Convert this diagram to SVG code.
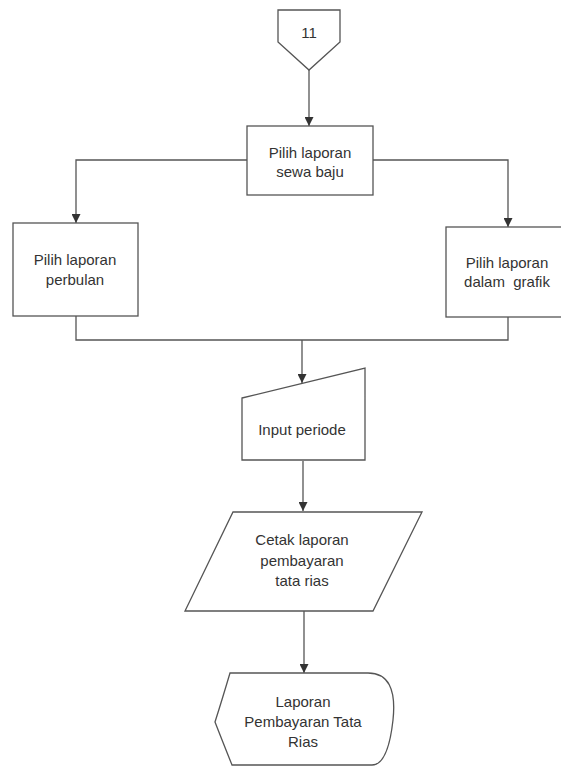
<svg xmlns="http://www.w3.org/2000/svg" width="561" height="766" viewBox="0 0 561 766">
<defs>
<style>
.s{fill:#fff;stroke:#555;stroke-width:1.3}
.c{fill:none;stroke:#555;stroke-width:1.3}
text{font-family:"Liberation Sans",Arial,sans-serif;font-size:15px;fill:#333;text-anchor:middle}
</style>
<marker id="ah" viewBox="0 0 10 10" refX="10" refY="5" markerWidth="9" markerHeight="9" markerUnits="userSpaceOnUse" orient="auto">
<path d="M0,0 L10,5 L0,10 z" fill="#333"/>
</marker>
</defs>
<rect width="561" height="766" fill="#fff"/>
<g id="connectors">
<path class="c" d="M309,70 V126" marker-end="url(#ah)"/>
<path class="c" d="M247,160 H76 V223" marker-end="url(#ah)"/>
<path class="c" d="M373,160 H508 V227" marker-end="url(#ah)"/>
<path class="c" d="M76,316 V340 H508 V317"/>
<path class="c" d="M302,340 V383" marker-end="url(#ah)"/>
<path class="c" d="M303,461 V511" marker-end="url(#ah)"/>
<path class="c" d="M304,611 V673" marker-end="url(#ah)"/>
</g>
<g id="n11">
<path class="s" d="M278,10 H340 V42 L309,70 L278,42 Z"/>
<text x="309" y="38">11</text>
</g>
<g id="sewa">
<rect class="s" x="247" y="126" width="126" height="69"/>
<text x="310" y="158">Pilih laporan</text>
<text x="310" y="177">sewa baju</text>
</g>
<g id="perbulan">
<rect class="s" x="13" y="223" width="125" height="93"/>
<text x="75" y="265">Pilih laporan</text>
<text x="75" y="285">perbulan</text>
</g>
<g id="grafik">
<rect class="s" x="446" y="227" width="120" height="90"/>
<text x="507" y="268">Pilih laporan</text>
<text x="507" y="287" xml:space="preserve">dalam  grafik</text>
</g>
<g id="input">
<path class="s" d="M242,398 L365,368 V460 H242 Z"/>
<text x="302" y="435">Input periode</text>
</g>
<g id="cetak">
<path class="s" d="M233,512 H422 L373,611 H185 Z"/>
<text x="302" y="545">Cetak laporan</text>
<text x="302" y="566">pembayaran</text>
<text x="302" y="586">tata rias</text>
</g>
<g id="laporan">
<path class="s" d="M230,673 H368 Q398,673 393,720 Q388,765 372,765 H232 Q222,740 215,722 Q222,700 230,673 Z"/>
<text x="303" y="707">Laporan</text>
<text x="303" y="727">Pembayaran Tata</text>
<text x="303" y="747">Rias</text>
</g>
</svg>
